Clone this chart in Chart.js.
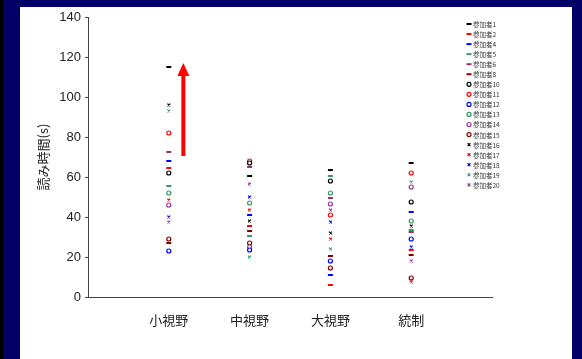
<!DOCTYPE html>
<html>
<head>
<meta charset="utf-8">
<script src="https://cdn.jsdelivr.net/npm/chart.js@4.4.1/dist/chart.umd.min.js"></script>
<style>
  html, body { margin: 0; padding: 0; width: 582px; height: 359px; overflow: hidden; background: #000066; }
  #stripe { position: absolute; left: 0; top: 0; width: 3px; height: 359px; background: #000; }
  #panel { position: absolute; left: 20px; top: 7px; width: 552px; height: 352px; background: #fff; }
  #wrap { position: absolute; left: 0; top: 0; width: 582px; height: 359px; }
</style>
</head>
<body>
<div id="stripe"></div>
<div id="panel"></div>
<div id="wrap"><canvas id="c"></canvas></div>
<script>
// Conditions along the x axis
const categories = ['小視野', '中視野', '大視野', '統制'];
const yTicks = [0, 20, 40, 60, 80, 100, 120, 140];

// Reading time (s) per participant, one value per condition
const p1  = [115, 60.5, 63.5, 67];
const p2  = [64.5, 35.5, 6, 23.5];
const p4  = [68, 41, 11, 42.5];
const p5  = [55.5, 30.5, 60.5, 33.5];
const p6  = [72.5, 65, 49.5, 32.5];
const p8  = [27, 33, 20.5, 21];
const p10 = [62, 67, 58, 47.5];
const p11 = [82, 68, 41, 62];
const p12 = [23, 23.5, 18, 29];
const p13 = [52, 47, 52, 38];
const p14 = [46, 25, 46.5, 55];
const p15 = [29, 27, 14.5, 9.5];
const p16 = [96, 38, 32, 35.5];
const p17 = [48.5, 43.5, 29, 7.5];
const p18 = [40, 50, 37.5, 25];
const p19 = [93, 20, 24, 57.5];
const p20 = [37.5, 56.5, 43.5, 18];

const participantNames = ['参加者1', '参加者2', '参加者4', '参加者5', '参加者6', '参加者8',
  '参加者10', '参加者11', '参加者12', '参加者13', '参加者14', '参加者15',
  '参加者16', '参加者17', '参加者18', '参加者19', '参加者20'];
const participantValues = [p1, p2, p4, p5, p6, p8, p10, p11, p12, p13, p14, p15, p16, p17, p18, p19, p20];

// Arrow marking the upward trend in the 小視野 column (data units)
const arrowX = 1.18;
const arrowFrom = 70.5;
const arrowTo = 117;

// Marker appearance per participant
const BLACK = '#000000', RED = '#ff0000', BLUE = '#0000ff', GREEN = '#339966', PURPLE = '#993399', PLUM = '#993366', MAROON = '#800000';
const markerStyles = [
  { c: BLACK, s: 'line' }, { c: RED, s: 'line' }, { c: BLUE, s: 'line' }, { c: GREEN, s: 'line' },
  { c: PLUM, s: 'line' }, { c: MAROON, s: 'line' },
  { c: BLACK, s: 'circle' }, { c: RED, s: 'circle' }, { c: BLUE, s: 'circle' }, { c: GREEN, s: 'circle' },
  { c: PURPLE, s: 'circle' }, { c: MAROON, s: 'circle' },
  { c: BLACK, s: 'crossRot' }, { c: RED, s: 'crossRot' }, { c: BLUE, s: 'crossRot' }, { c: GREEN, s: 'crossRot' },
  { c: PURPLE, s: 'crossRot' }
];

function markerRadius(style) { return style === 'line' ? 2.5 : 2; }
function markerWidth(style) { return style === 'line' ? 2 : 1.2; }

const datasets = participantNames.map((name, i) => {
  const st = markerStyles[i];
  return {
    label: name,
    data: participantValues[i].map((v, k) => ({ x: k + 1, y: v })),
    showLine: false,
    pointStyle: st.s,
    pointRadius: markerRadius(st.s),
    pointHoverRadius: markerRadius(st.s),
    pointBorderWidth: markerWidth(st.s),
    borderColor: st.c,
    backgroundColor: st.s === 'circle' ? '#ffffff' : st.c
  };
});

// Small legend in the upper right of the plot
const legendPlugin = {
  id: 'smallLegend',
  afterDatasetsDraw(chart) {
    const ctx = chart.ctx;
    ctx.save();
    ctx.font = '6.5px "Noto Sans CJK JP"';
    ctx.textBaseline = 'middle';
    ctx.textAlign = 'left';
    chart.data.datasets.forEach((ds, i) => {
      const y = 24 + i * 10.05;
      const st = ds.pointStyle;
      ctx.strokeStyle = ds.borderColor;
      ctx.fillStyle = st === 'circle' ? '#ffffff' : ds.borderColor;
      ctx.lineWidth = st === 'line' ? 2 : 1.2;
      Chart.helpers.drawPoint(ctx, { pointStyle: st, rotation: 0, radius: st === 'line' ? 2.5 : 2, borderWidth: ctx.lineWidth }, 469, y);
      ctx.fillStyle = '#333333';
      ctx.fillText(ds.label, 473, y + 0.5);
    });
    ctx.restore();
  }
};

// Red arrow annotation
const arrowPlugin = {
  id: 'trendArrow',
  afterDatasetsDraw(chart) {
    const xs = chart.scales.x, ys = chart.scales.y;
    const x = xs.getPixelForValue(arrowX);
    const yBottom = ys.getPixelForValue(arrowFrom);
    const yTip = ys.getPixelForValue(arrowTo);
    const headH = 13, headW = 12;
    const ctx = chart.ctx;
    ctx.save();
    ctx.strokeStyle = '#ff0000';
    ctx.fillStyle = '#ff0000';
    ctx.lineWidth = 4;
    ctx.beginPath();
    ctx.moveTo(x, yBottom);
    ctx.lineTo(x, yTip + headH - 1);
    ctx.stroke();
    ctx.beginPath();
    ctx.moveTo(x, yTip);
    ctx.lineTo(x - headW / 2, yTip + headH);
    ctx.lineTo(x + headW / 2, yTip + headH);
    ctx.closePath();
    ctx.fill();
    ctx.restore();
  }
};

new Chart(document.getElementById('c'), {
  type: 'scatter',
  data: { datasets },
  plugins: [arrowPlugin, legendPlugin],
  options: {
    responsive: true,
    maintainAspectRatio: false,
    animation: false,
    devicePixelRatio: 1,
    layout: { padding: { left: 20, top: 17, right: 90, bottom: 0 } },
    plugins: { legend: { display: false }, tooltip: { enabled: false } },
    scales: {
      x: {
        type: 'linear',
        min: 0,
        max: 5,
        afterBuildTicks(scale) { scale.ticks = categories.map((c, i) => ({ value: i + 1 })); },
        afterFit(scale) { scale.height = 62; },
        grid: { display: false, drawTicks: false },
        border: { display: true, color: '#444444', width: 1 },
        ticks: {
          padding: 15,
          color: '#222222',
          font: { family: '"Noto Sans CJK JP"', size: 13 },
          callback: (v) => categories[v - 1] || ''
        }
      },
      y: {
        min: 0,
        max: 140,
        afterBuildTicks(scale) { scale.ticks = yTicks.map(v => ({ value: v })); },
        afterFit(scale) { scale.width = 68; },
        grid: { drawOnChartArea: false, drawTicks: true, tickLength: 3, color: '#444444' },
        border: { display: true, color: '#444444', width: 1 },
        ticks: {
          padding: 4,
          color: '#222222',
          font: { family: '"Liberation Sans"', size: 13 }
        },
        title: {
          display: true,
          text: '読み時間(s)',
          color: '#222222',
          font: { family: '"Noto Sans CJK JP"', size: 13 },
          padding: { top: 15, bottom: 0 }
        }
      }
    }
  }
});
</script>
</body>
</html>
